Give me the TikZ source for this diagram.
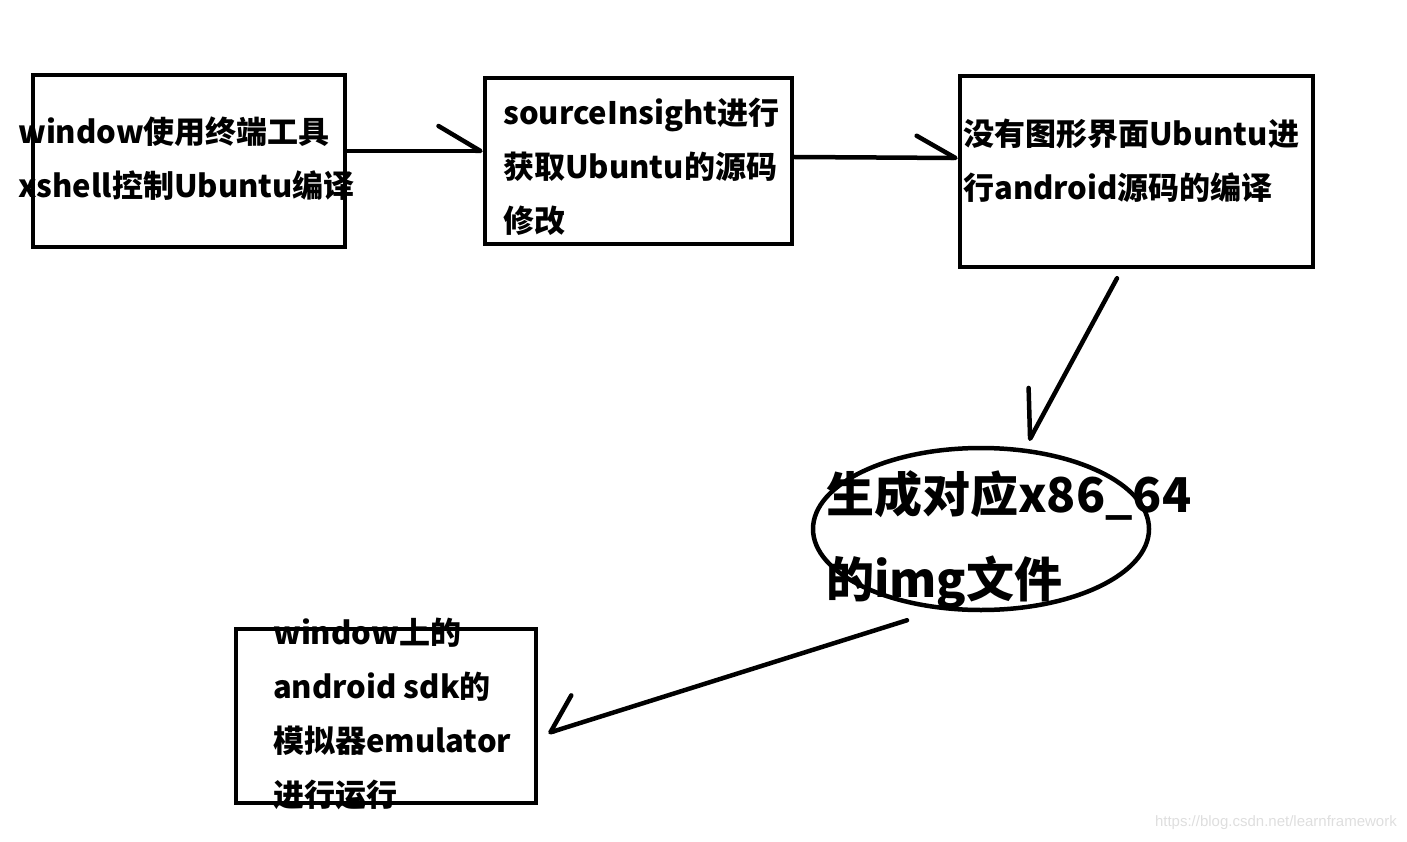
\documentclass[tikz,border=0pt]{standalone}
\usepackage{fontspec}
\setmainfont{Noto Sans CJK SC}
\setsansfont{Liberation Sans}
\usepackage{tikz}
\usetikzlibrary{arrows.meta,shapes.geometric,positioning}
\tikzset{
    % Frame round each step
    stepframe/.style={
        draw,
        rectangle,
        line width=4.5pt,
        inner sep=0pt,
    },
    % Oval for the produced image
    resultoval/.style={
        draw,
        ellipse,
        line width=4.5pt,
        inner sep=0pt,
    },
    % Text that sits in (and runs over) the frames, placed by its last line
    steptext/.style={
        anchor=base west,
        inner sep=0pt,
        align=left,
        font=\fontsize{31pt}{54pt}\selectfont\bfseries,
    },
    bigtext/.style={
        steptext,
        font=\fontsize{48pt}{85pt}\selectfont\bfseries,
    },
    % Hand drawn arrow with a single barb
    handarrow/.style={
        line width=4.5pt,
        line cap=round,
    },
    barb/.style 2 args={
        -{Straight Barb[harpoon, round, length=#1, width=#2]},
    },
    barb swap/.style 2 args={
        -{Straight Barb[harpoon, swap, round, length=#1, width=#2]},
    },
    watermark/.style={
        anchor=east,
        inner sep=0pt,
        text=black!13,
        font=\sffamily\fontsize{15pt}{18pt}\selectfont,
    },
}

\begin{document}
\begin{tikzpicture}[x=1pt, y=-1pt]
    \useasboundingbox (0,0) rectangle (1407,842);

    \node (ssh_box) [stepframe, minimum width=312pt, minimum height=172pt] at (189,161) {};
    \node (src_box) [stepframe, minimum width=307pt, minimum height=166pt] at (638.5,161) {};
    \node (build_box) [stepframe, minimum width=353pt, minimum height=191pt] at (1136.5,171.5) {};
    \node (img_oval) [resultoval, minimum width=336pt, minimum height=162pt] at (981,529) {};
    \node (emu_box) [stepframe, minimum width=300pt, minimum height=174pt] at (386,716) {};

    \node (ssh_text) [steptext] at (18,198) {window使用终端工具\\xshell控制Ubuntu编译};
    \node (src_text) [steptext] at (503,233) {sourceInsight进行\\获取Ubuntu的源码\\修改};
    \node (build_text) [steptext] at (963,200) {没有图形界面Ubuntu进\\行android源码的编译};
    \node (img_text) [bigtext] at (826,597) {生成对应x86\_64\\的img文件};
    \node (emu_text) [steptext] at (273,806) {window上的\\android sdk的\\模拟器emulator\\进行运行};

    \node (mark) [watermark] at (1397,823) {https://blog.csdn.net/learnframework};

    \draw [handarrow, barb={42pt}{50pt}] ([yshift=10pt]ssh_box.east) -- ([yshift=10pt]src_box.west);
    \draw [handarrow, barb={39pt}{44pt}] ([yshift=4pt]src_box.east) -- ([yshift=13.5pt]build_box.west);
    \draw [handarrow, barb swap={44pt}{51pt}] ([xshift=-19.5pt, yshift=-9pt]build_box.south) -- ([xshift=48pt, yshift=5pt]img_oval.north);
    \draw [handarrow, barb swap={31pt}{58pt}] ([xshift=-74pt, yshift=-8pt]img_oval.south) -- ([xshift=10pt, yshift=-17pt]emu_box.east);
\end{tikzpicture}
\end{document}
